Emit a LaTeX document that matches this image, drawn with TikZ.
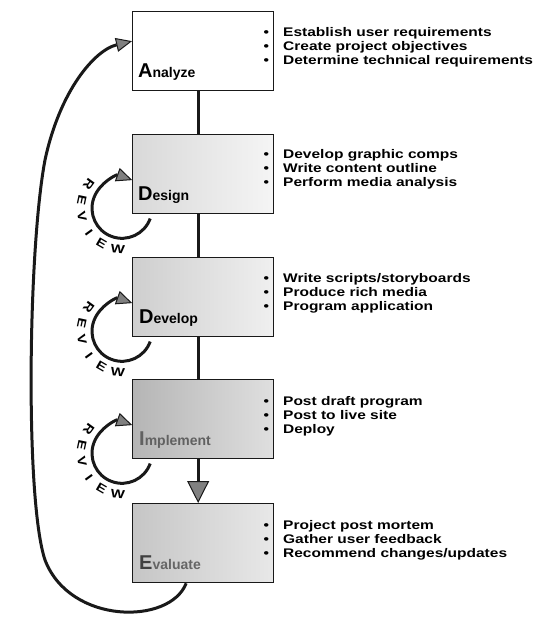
\documentclass[tikz,border=0pt]{standalone}
\usepackage{fontspec}
\setmainfont{Liberation Sans}
\newfontfamily\widefont{Liberation Sans}[FakeStretch=1.24]
\usetikzlibrary{arrows.meta,calc}
\newcommand\biginit[1]{{\fontsize{20}{20}\selectfont #1}}
\newcommand\itm{\makebox[19.5pt][l]{•}}
\begin{document}
\begin{tikzpicture}[x=1pt,y=1pt,
  box/.style={draw=black!90, line width=1.3pt, minimum width=141pt, minimum height=79pt, anchor=north west, inner sep=0pt},
  lab/.style={anchor=base west, inner sep=0pt, font=\bfseries\fontsize{14}{14}\selectfont},
  items/.style={anchor=west, inner sep=0pt, align=left, font=\widefont\bfseries\fontsize{12.5}{13.8}\selectfont},
  conn/.style={draw=black!90, line width=3pt},
  tipgray/.tip={Triangle[length=16pt,width=14pt,fill=black!50,line width=1pt]},
  rev/.style={inner sep=0pt, font=\widefont\bfseries\fontsize{12}{12}\selectfont}
]
\useasboundingbox (0,0) rectangle (534,-619);

% boxes
\node[box, fill=white] (A) at (132,-11) {};
\node[box, left color=gray!30, right color=gray!8] (D) at (132,-134) {};
\node[box, left color=gray!38, right color=gray!12] (V) at (132,-257) {};
\node[box, left color=gray!58, right color=gray!25] (I) at (132,-379) {};
\node[box, left color=gray!45, right color=gray!18] (E) at (132,-503) {};

% labels
\node[lab] (Al) at (138,-77) {\biginit{A}nalyze};
\node[lab] (Dl) at (138,-200) {\biginit{D}esign};
\node[lab] (Vl) at (139,-323) {\biginit{D}evelop};
\node[lab, text=black!62] (Il) at (139,-445) {\biginit{I}mplement};
\node[lab, text=black!60] (El) at (139,-569) {{\color{black!75}\biginit{E}}valuate};

% item lists
\node[items] (At) at (263.5,-47) {\itm Establish user requirements\\\itm Create project objectives\\\itm Determine technical requirements};
\node[items] (Dt) at (263.5,-169) {\itm Develop graphic comps\\\itm Write content outline\\\itm Perform media analysis};
\node[items] (Vt) at (263.5,-293) {\itm Write scripts/storyboards\\\itm Produce rich media\\\itm Program application};
\node[items] (It) at (263.5,-416) {\itm Post draft program\\\itm Post to live site\\\itm Deploy};
\node[items] (Et) at (263.5,-540) {\itm Project post mortem\\\itm Gather user feedback\\\itm Recommend changes/updates};

% main connectors
\draw[conn] ([xshift=-5pt]A.south) -- ([xshift=-5pt]D.north);
\draw[conn] ([xshift=-5pt]D.south) -- ([xshift=-5pt]V.north);
\draw[conn] ([xshift=-5pt]V.south) -- ([xshift=-5pt]I.north);
\draw[conn, -{Triangle[length=22pt,width=22pt,fill=black!50,line width=1pt]}] ([xshift=-5pt]I.south) -- ([xshift=-5pt]E.north);

% big feedback loop
\draw[conn, -tipgray] ([xshift=-17pt]E.south) .. controls (170,-625) and (70,-625) .. (45,-560)
  .. controls (25,-500) and (28,-250) .. (45,-160)
  .. controls (60,-90) and (95,-50) .. ([yshift=10pt]A.west);

% review loops
\foreach \b in {D,V,I}{
  \coordinate (c\b) at ([xshift=-10pt,yshift=6pt]\b.south west);
  \draw[conn, -tipgray] ([shift={(-20:30pt)}]c\b) arc[start angle=-20, end angle=-290, radius=30pt];
  \foreach \a/\l [count=\k] in {144/R,168/E,192/V,216/I,240/E,264/W}
    \node[rev, rotate=\a+90] (\b-l\k) at ($(c\b)+(\a:41pt)$) {\l};
}
\end{tikzpicture}
\end{document}
